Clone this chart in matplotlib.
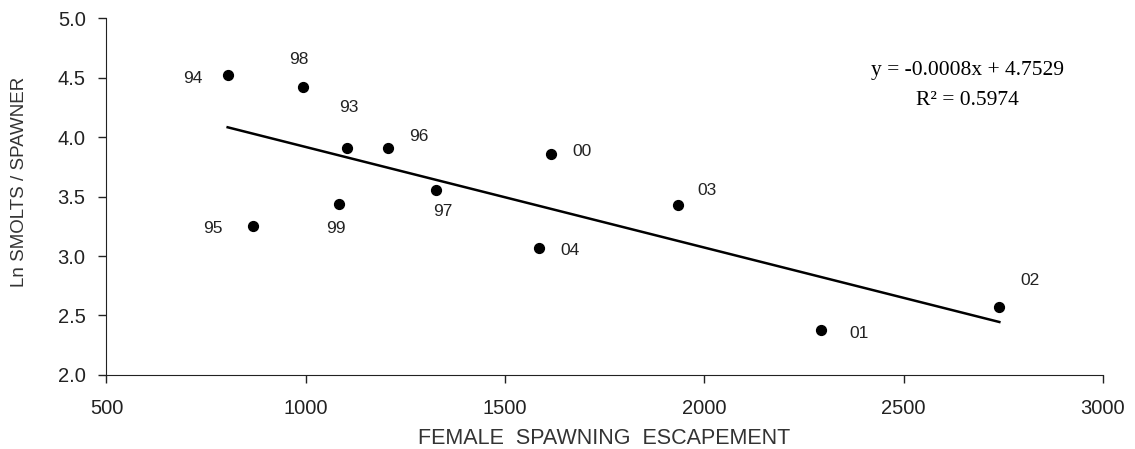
import numpy as np
import matplotlib
matplotlib.use('Agg')
import matplotlib.pyplot as plt

# Year labels and values
years = ['94', '98', '93', '96', '97', '00', '04', '03', '95', '99', '01', '02']
escapement = [804, 992, 1103, 1206, 1327, 1614, 1585, 1935, 867, 1083, 2292, 2740]
ln_smolts = [4.52, 4.42, 3.91, 3.91, 3.56, 3.86, 3.07, 3.43, 3.25, 3.44, 2.38, 2.57]

# label offsets in pixels (dx, dy) relative to each point
label_dx = [-35, -4, 2, 31, 7, 31, 31, 29, -40, -3, 38, 31]
label_dy = [-3, 28, 40, 11, -22, 2, -3, 14, -2, -25, -4, 27]

plt.rcParams['font.family'] = ['Liberation Sans', 'DejaVu Sans']

fig = plt.figure(figsize=(11.35, 4.49), dpi=100)
ax = fig.add_axes([0.0938, 0.165, 0.878, 0.794])

ax.scatter(escapement, ln_smolts, s=50, color='black', zorder=3)

for yr, x, y, dx, dy in zip(years, escapement, ln_smolts, label_dx, label_dy):
    ax.annotate(yr, (x, y), xytext=(dx, dy), textcoords='offset pixels',
                ha='center', va='center', fontsize=12.5, color='#222222')

# trend line over the range of the data
slope, intercept = np.polyfit(escapement, ln_smolts, 1)
xs = np.array([min(escapement), max(escapement)])
ax.plot(xs, slope * xs + intercept, color='black', lw=1.8, zorder=2)

ax.text(0.864, 0.855, 'y = -0.0008x + 4.7529', transform=ax.transAxes,
        ha='center', va='center', fontsize=15.5, family='Liberation Serif')
ax.text(0.864, 0.771, 'R\u00b2 = 0.5974', transform=ax.transAxes,
        ha='center', va='center', fontsize=15.5, family='Liberation Serif')

ax.set_xlim(500, 3000)
ax.set_ylim(2.0, 5.0)
ax.set_xticks([500, 1000, 1500, 2000, 2500, 3000])
ax.set_yticks([2.0, 2.5, 3.0, 3.5, 4.0, 4.5, 5.0])
ax.set_yticklabels(['2.0', '2.5', '3.0', '3.5', '4.0', '4.5', '5.0'])
ax.tick_params(direction='out', length=6, width=1, labelsize=14.5, colors='#222222')
ax.tick_params(axis='x', pad=11)
ax.tick_params(axis='y', pad=9)
ax.spines['top'].set_visible(False)
ax.spines['right'].set_visible(False)
ax.spines['left'].set_color('#222222')
ax.spines['bottom'].set_color('#222222')

ax.set_xlabel('FEMALE  SPAWNING  ESCAPEMENT', fontsize=15.5, color='#333333')
ax.xaxis.label.set_va('center')
ax.xaxis.set_label_coords(0.499, -0.177)
ax.set_ylabel('Ln SMOLTS / SPAWNER', fontsize=13.5, color='#333333')
ax.yaxis.label.set_va('center')
ax.yaxis.set_label_coords(-0.087, 0.541)

fig.savefig('out.png', dpi=100)
plt.close(fig)
